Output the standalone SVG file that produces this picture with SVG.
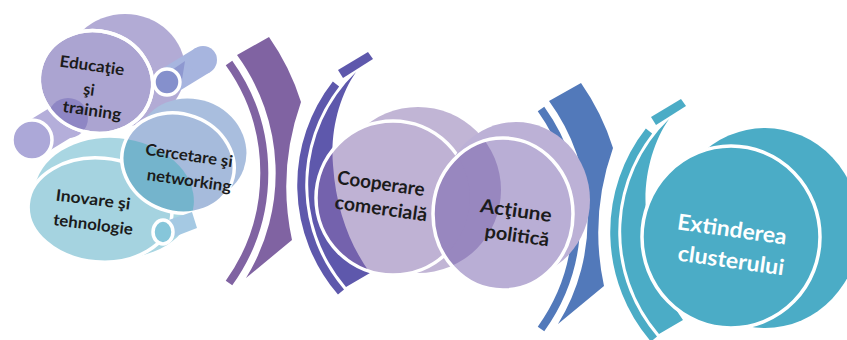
<svg xmlns="http://www.w3.org/2000/svg" xmlns:xlink="http://www.w3.org/1999/xlink" width="847" height="340" viewBox="0 0 847 340">
<style>
.wl{stroke:#fff;stroke-width:3.5}
.t{font-family:Lato,"Open Sans","Liberation Sans",sans-serif;font-weight:700;fill:#1b1b1b;text-anchor:middle}
.s16{font-size:16px}.s18{font-size:19px}.s22{font-size:22px}
.w{fill:#fff}
</style>
<defs>
<path id="bandR" d="M237,55 L269,37 A236,236 0 0 1 301,102 Q277,170 292,240 L246,278 A200,200 0 0 0 237,55 Z"/>
<path id="stripR" d="M229,63 A189,189 0 0 1 229,283" fill="none" stroke-width="8"/>
<path id="bandL" d="M356,72 C340,95 330,130 333,165 C336,210 350,245 370,273 L346,287 A157,157 0 0 1 356,72 Z"/>
<path id="stripL" d="M336,84 A164,164 0 0 0 341,292" fill="none" stroke-width="8"/>
<polygon id="chipL" points="338,70 368,52 373,59 343,78"/>
<circle id="c1" cx="393" cy="198" r="77"/>
<circle id="b1" cx="418" cy="190" r="83"/>
<ellipse id="c2" cx="503" cy="214" rx="70" ry="76"/>
<ellipse id="edF" cx="96" cy="82" rx="57" ry="51" transform="rotate(15 96 82)"/>
<ellipse id="ceF" cx="178" cy="163" rx="57" ry="49" transform="rotate(20 178 163)"/>
<ellipse id="inF" cx="100" cy="210" rx="72" ry="52" transform="rotate(5 100 210)"/>
<ellipse id="inB" cx="114" cy="198" rx="80" ry="60" transform="rotate(5 114 198)"/>
<clipPath id="clipC1"><use xlink:href="#c1"/></clipPath>
<clipPath id="clipC2"><use xlink:href="#c2"/></clipPath>
<clipPath id="clipEd"><use xlink:href="#edF"/></clipPath>
<clipPath id="clipIn"><use xlink:href="#inB"/></clipPath>
</defs>

<g id="connectors">
<g id="arc-purple" fill="#8063A2" stroke="#8063A2">
<use xlink:href="#bandR" stroke="none"/>
<use xlink:href="#stripR" fill="none"/>
</g>
<g id="arc-indigo" fill="#5E58AC" stroke="#5E58AC">
<use xlink:href="#bandL" stroke="none"/>
<use xlink:href="#stripL" fill="none"/>
<use xlink:href="#chipL" stroke="none"/>
</g>
<g id="arc-blue" fill="#5279BA" stroke="#5279BA" transform="translate(312 46)">
<use xlink:href="#bandR" stroke="none"/>
<use xlink:href="#stripR" fill="none"/>
</g>
<g id="arc-teal" fill="#4BACC6" stroke="#4BACC6" transform="translate(313 47)">
<use xlink:href="#bandL" stroke="none"/>
<use xlink:href="#stripL" fill="none"/>
<use xlink:href="#chipL" stroke="none"/>
</g>
</g>

<g id="cluster">
<g id="cyl-left">
<polygon points="42.4,157.1 78.4,135.1 57.6,100.9 21.6,122.9" fill="#B4AEDA" class="wl"/>
<circle cx="68" cy="118" r="20" fill="#B4AEDA"/>
<circle cx="32" cy="140" r="20" fill="#ACA8D8" class="wl"/>
</g>
<ellipse id="inB-shape" cx="114" cy="198" rx="80" ry="60" transform="rotate(5 114 198)" fill="#A9D6E2"/>
<ellipse cx="125" cy="70" rx="60" ry="56" fill="#B2ABD5"/>
<ellipse cx="191" cy="150" rx="56" ry="51" transform="rotate(20 191 150)" fill="#A9BEDE"/>
<g id="node-inovare">
<use xlink:href="#inF" fill="#A5D3E0" class="wl"/>
</g>
<g id="node-educatie">
<use xlink:href="#edF" fill="#ABA4D1" class="wl"/>
<circle cx="68" cy="118" r="20" fill="#8E86C4" clip-path="url(#clipEd)"/>
<use xlink:href="#edF" fill="none" class="wl"/>
</g>
<g id="cyl-top">
<polygon points="174.3,93.9 210.3,71.9 195.7,48.1 159.7,70.1" fill="#A7B5DF"/>
<circle cx="203" cy="60" r="14" fill="#A7B5DF"/>
<polygon points="172,70 185,61 181,86" fill="#8E98D0"/>
<circle cx="167" cy="82" r="13" fill="#8590CC" class="wl"/>
</g>
<g id="node-cercetare">
<use xlink:href="#ceF" fill="#A6BBDC"/>
<use xlink:href="#ceF" fill="#74B4CC" clip-path="url(#clipIn)"/>
<use xlink:href="#ceF" fill="none" class="wl"/>
</g>
<g id="cyl-bottom">
<polygon points="160,223 192,212 197,228 166,240" fill="#A5C9E3"/>
<ellipse cx="163" cy="232" rx="10" ry="12" fill="#86C6DA" class="wl"/>
</g>
<text class="t s16" x="92" y="71" transform="rotate(8 92 66)" textLength="65" lengthAdjust="spacingAndGlyphs">Educaţie</text>
<text class="t s16" x="89" y="95" transform="rotate(8 89 90)">şi</text>
<text class="t s16" x="92" y="116" transform="rotate(8 92 111)" textLength="59" lengthAdjust="spacingAndGlyphs">training</text>
<text class="t s16" x="189" y="161" transform="rotate(8 189 156)" textLength="88" lengthAdjust="spacingAndGlyphs">Cercetare şi</text>
<text class="t s16" x="189" y="186" transform="rotate(8 189 181)" textLength="85" lengthAdjust="spacingAndGlyphs">networking</text>
<text class="t s16" x="93" y="205" transform="rotate(7 93 200)" textLength="75" lengthAdjust="spacingAndGlyphs">Inovare şi</text>
<text class="t s16" x="93" y="230" transform="rotate(7 93 225)" textLength="80" lengthAdjust="spacingAndGlyphs">tehnologie</text>
</g>

<g id="node-cooperare">
<use xlink:href="#b1" fill="#C1B5D5"/>
<use xlink:href="#c1" fill="#BFB2D4"/>
<use xlink:href="#bandL" fill="#7462AD" clip-path="url(#clipC1)"/>
<use xlink:href="#c1" fill="none" class="wl"/>
<text class="t s18" x="381" y="190" transform="rotate(8 381 184)" textLength="88" lengthAdjust="spacingAndGlyphs">Cooperare</text>
<text class="t s18" x="381" y="215" transform="rotate(8 381 209)" textLength="93" lengthAdjust="spacingAndGlyphs">comercială</text>
</g>

<g id="node-actiune">
<ellipse cx="516" cy="200" rx="74" ry="78" fill="#BCB1D6"/>
<use xlink:href="#c2" fill="#B9AED5"/>
<g clip-path="url(#clipC2)" fill="#9887BF">
<use xlink:href="#b1"/>
<use xlink:href="#c1"/>
</g>
<use xlink:href="#c2" fill="none" class="wl"/>
<text class="t s18" x="516" y="217" transform="rotate(8 516 211)" textLength="72" lengthAdjust="spacingAndGlyphs">Acţiune</text>
<text class="t s18" x="517" y="242" transform="rotate(8 517 236)" textLength="65" lengthAdjust="spacingAndGlyphs">politică</text>
</g>

<g id="node-extinderea">
<ellipse cx="765" cy="228" rx="95" ry="100" fill="#4BACC6"/>
<ellipse cx="731" cy="237" rx="89" ry="91" fill="#4BACC6" class="wl" stroke-width="4"/>
<text class="t s22 w" x="732" y="237" transform="rotate(8 732 230)" textLength="110" lengthAdjust="spacingAndGlyphs">Extinderea</text>
<text class="t s22 w" x="731" y="268" transform="rotate(8 731 261)" textLength="107" lengthAdjust="spacingAndGlyphs">clusterului</text>
</g>
</svg>
